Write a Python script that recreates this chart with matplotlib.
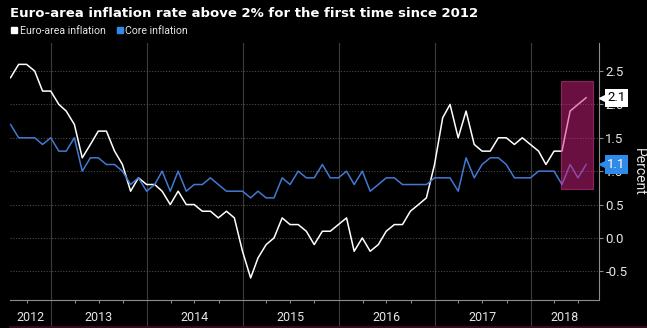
import numpy as np
import pandas as pd
import matplotlib
matplotlib.use('Agg')
import matplotlib.pyplot as plt
import matplotlib.dates as mdates
from matplotlib.lines import Line2D
from matplotlib.patches import Rectangle

# monthly readings, Jul 2012 .. Jul 2018
months = pd.date_range('2012-07-31', periods=73, freq='ME')
headline = [2.4, 2.6, 2.6, 2.5, 2.2, 2.2,
            2.0, 1.9, 1.7, 1.2, 1.4, 1.6, 1.6, 1.3, 1.1, 0.7, 0.9, 0.8,
            0.8, 0.7, 0.5, 0.7, 0.5, 0.5, 0.4, 0.4, 0.3, 0.4, 0.3, -0.2,
            -0.6, -0.3, -0.1, 0.0, 0.3, 0.2, 0.2, 0.1, -0.1, 0.1, 0.1, 0.2,
            0.3, -0.2, 0.0, -0.2, -0.1, 0.1, 0.2, 0.2, 0.4, 0.5, 0.6, 1.1,
            1.8, 2.0, 1.5, 1.9, 1.4, 1.3, 1.3, 1.5, 1.5, 1.4, 1.5, 1.4,
            1.3, 1.1, 1.3, 1.3, 1.9, 2.0, 2.1]
core = [1.7, 1.5, 1.5, 1.5, 1.4, 1.5,
        1.3, 1.3, 1.5, 1.0, 1.2, 1.2, 1.1, 1.1, 1.0, 0.8, 0.9, 0.7,
        0.8, 1.0, 0.7, 1.0, 0.7, 0.8, 0.8, 0.9, 0.8, 0.7, 0.7, 0.7,
        0.6, 0.7, 0.6, 0.6, 0.9, 0.8, 1.0, 0.9, 0.9, 1.1, 0.9, 0.9,
        1.0, 0.8, 1.0, 0.7, 0.8, 0.9, 0.9, 0.8, 0.8, 0.8, 0.8, 0.9,
        0.9, 0.9, 0.7, 1.2, 0.9, 1.1, 1.2, 1.2, 1.1, 0.9, 0.9, 0.9,
        1.0, 1.0, 1.0, 0.8, 1.1, 0.9, 1.1]
years = [2012, 2013, 2014, 2015, 2016, 2017, 2018]
yticks = [-0.5, 0.0, 0.5, 1.0, 1.5, 2.0, 2.5]

WHITE = '#ffffff'
BLUE_LINE = '#4279d2'
BLUE_TAG = '#2f8ae8'
GRID = '#3c3c3c'
AXIS = '#8c8c8c'
TEXT = '#e6e6e6'

plt.rcParams['font.family'] = ['Roboto', 'DejaVu Sans']
plt.rcParams['axes.unicode_minus'] = False

fig = plt.figure(figsize=(6.47, 3.28), dpi=100, facecolor='black')
ax = fig.add_axes([10 / 647, 28 / 328, 589 / 647, 257 / 328])
ax.set_facecolor('black')

ax.plot(months, headline, color=WHITE, lw=1.1, zorder=3)
ax.plot(months, core, color=BLUE_LINE, lw=1.1, zorder=3)

x0 = months[0] - pd.Timedelta(days=2)
x1 = pd.Timestamp('2018-09-18')
ax.set_xlim(x0, x1)
ax.set_ylim(-0.93, 2.92)

# highlight box over the latest readings
bx0 = mdates.date2num(pd.Timestamp('2018-04-28'))
bx1 = mdates.date2num(pd.Timestamp('2018-08-27'))
ax.add_patch(Rectangle((bx0, 0.73), bx1 - bx0, 1.62, facecolor='#d42080',
                       edgecolor='#e0409a', lw=0.8, alpha=0.5, zorder=4))

for s in ['top', 'left']:
    ax.spines[s].set_visible(False)
ax.spines['bottom'].set_color(AXIS)
ax.spines['right'].set_color(AXIS)

ax.yaxis.tick_right()
ax.set_yticks(yticks)
ax.set_yticklabels([f'{v:.1f}' for v in yticks])
ax.tick_params(axis='y', colors=AXIS, labelcolor=TEXT, labelsize=9.5,
               length=3, pad=1.5)
ax.grid(axis='y', color='#4a4a4a', linestyle=(0, (1, 1.5)), lw=0.8)
ax.yaxis.set_label_position('right')
ax.set_ylabel('Percent', rotation=270, color=TEXT, fontsize=10,
              labelpad=13)

ax.xaxis.set_major_locator(mdates.YearLocator())
ax.xaxis.set_minor_locator(mdates.MonthLocator(bymonth=[4, 7, 10]))
ax.xaxis.set_major_formatter(plt.NullFormatter())
ax.tick_params(axis='x', which='major', length=22, width=0.8, color=GRID)
ax.tick_params(axis='x', which='minor', length=2, width=0.8, color=AXIS)
ax.grid(axis='x', which='major', color=GRID, lw=0.8)

# year labels centred on each visible year
trans = ax.get_xaxis_transform()
lo, hi = ax.get_xlim()
for y in years:
    a = max(mdates.date2num(pd.Timestamp(f'{y}-01-01')), lo)
    b = min(mdates.date2num(pd.Timestamp(f'{y + 1}-01-01')), hi)
    ax.text((a + b) / 2, -0.07, str(y), transform=trans, ha='center',
            va='center', color=TEXT, fontsize=9)

# last value tags
ytrans = ax.get_yaxis_transform()
for vals, fc, tc in [(headline, WHITE, 'black'), (core, BLUE_TAG, WHITE)]:
    v = vals[-1]
    ax.plot([1.009], [v], marker='<', ms=7, color=fc, transform=ytrans,
            clip_on=False, zorder=6)
    ax.annotate(f'{v:.1f}', xy=(1.0, v), xycoords=ytrans, xytext=(6, 0),
                textcoords='offset points', ha='left', va='center',
                fontsize=9.5, color=tc, zorder=7, annotation_clip=False,
                bbox=dict(boxstyle='square,pad=0.2', fc=fc, ec='none'))

fig.text(0.015, 0.948, 'Euro-area inflation rate above 2% for the first time since 2012',
         color=WHITE, fontsize=9.5, fontweight='bold', va='baseline',
         family='DejaVu Sans')

handles = [Line2D([], [], ls='none', marker='s', ms=5, color=WHITE),
           Line2D([], [], ls='none', marker='s', ms=5, color=BLUE_TAG)]
fig.legend(handles, ['Euro-area inflation', 'Core inflation'], loc='upper left',
           bbox_to_anchor=(0.018, 0.922), ncol=2, frameon=False, fontsize=7.6,
           labelcolor=TEXT, handlelength=0.5, handletextpad=0.25,
           columnspacing=1.1, borderaxespad=0, borderpad=0)

fig.add_artist(Line2D([10 / 647, 1], [0.004, 0.004], color='#3a0c22', lw=2))

fig.savefig('out.png', dpi=100, facecolor='black')
